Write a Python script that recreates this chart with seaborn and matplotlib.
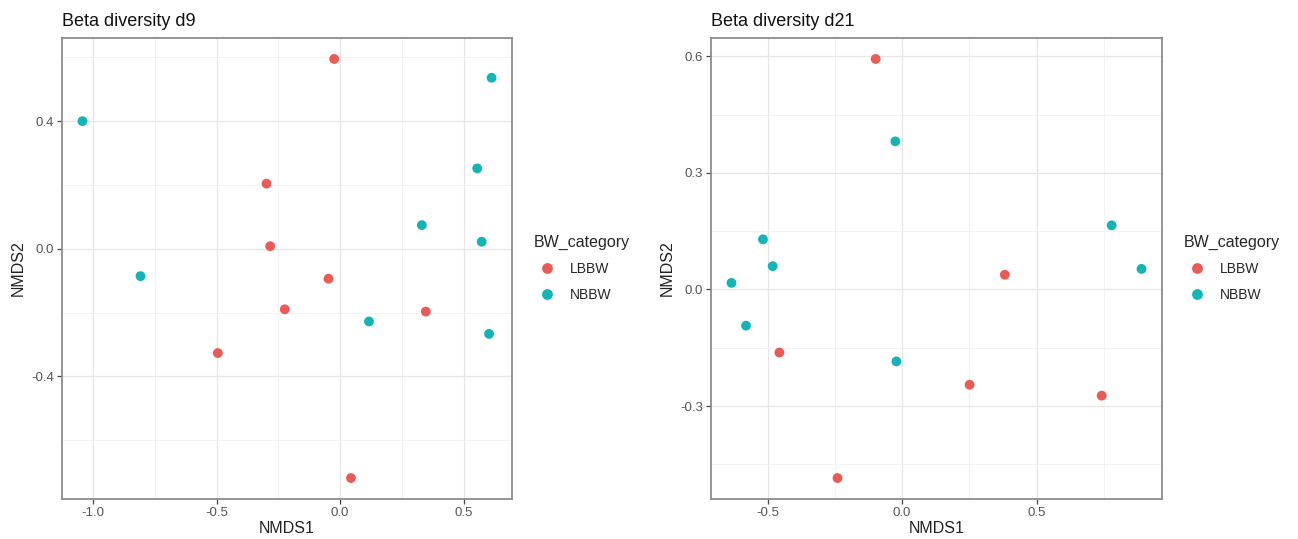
import pandas as pd
import numpy as np
import matplotlib.pyplot as plt
import seaborn as sns
from matplotlib.ticker import MultipleLocator

# NMDS coordinates, day 9
d9_nmds1 = [-0.024, -0.298, -0.283, -0.047, -0.224, 0.347, -0.495, 0.044,
            0.613, -1.043, 0.555, 0.331, 0.573, -0.808, 0.117, 0.603]
d9_nmds2 = [0.595, 0.204, 0.008, -0.094, -0.190, -0.197, -0.327, -0.719,
            0.536, 0.400, 0.252, 0.074, 0.022, -0.086, -0.228, -0.267]
d9_group = ['LBBW'] * 8 + ['NBBW'] * 8

# NMDS coordinates, day 21
d21_nmds1 = [-0.098, 0.382, -0.456, 0.251, 0.742, -0.240,
             -0.025, 0.779, -0.517, -0.481, -0.634, 0.890, -0.580, -0.021]
d21_nmds2 = [0.593, 0.038, -0.162, -0.245, -0.273, -0.485,
             0.381, 0.165, 0.129, 0.060, 0.017, 0.053, -0.093, -0.185]
d21_group = ['LBBW'] * 6 + ['NBBW'] * 8

categories = ['LBBW', 'NBBW']
palette = {'LBBW': '#EC5A55', 'NBBW': '#13B4B6'}

sns.set_theme(style='white')
plt.rcParams['font.family'] = ['Liberation Sans', 'DejaVu Sans']
plt.rcParams['axes.unicode_minus'] = False

fig = plt.figure(figsize=(12.98, 5.39), dpi=100)
ax1 = fig.add_axes([62 / 1298, 1 - 499 / 539, 450 / 1298, 461 / 539])
ax2 = fig.add_axes([711 / 1298, 1 - 499 / 539, 451 / 1298, 461 / 539])

panels = [
    (ax1, d9_nmds1, d9_nmds2, d9_group, 'Beta diversity d9', 0.5, 0.4),
    (ax2, d21_nmds1, d21_nmds2, d21_group, 'Beta diversity d21', 0.5, 0.3),
]

for ax, x, y, grp, title, xstep, ystep in panels:
    df = pd.DataFrame({'NMDS1': x, 'NMDS2': y, 'BW_category': grp})
    sns.scatterplot(data=df, x='NMDS1', y='NMDS2', hue='BW_category',
                    hue_order=categories, palette=palette, s=50,
                    linewidth=0, ax=ax, zorder=3)
    ax.margins(0.05)
    ax.xaxis.set_major_locator(MultipleLocator(xstep))
    ax.yaxis.set_major_locator(MultipleLocator(ystep))
    ax.xaxis.set_minor_locator(MultipleLocator(xstep / 2))
    ax.yaxis.set_minor_locator(MultipleLocator(ystep / 2))
    ax.grid(which='major', color='#E6E6E6', linewidth=0.9, zorder=0)
    ax.grid(which='minor', color='#F1F1F1', linewidth=0.6, zorder=0)
    ax.set_axisbelow(True)
    for sp in ax.spines.values():
        sp.set_color('#8C8C8C')
        sp.set_linewidth(1.3)
    ax.tick_params(which='major', direction='out', length=3.5, width=0.9,
                   color='#444444', labelcolor='#555555', labelsize=9.5,
                   bottom=True, left=True, pad=2)
    ax.tick_params(which='minor', length=0)
    ax.set_xlabel('NMDS1', fontsize=11.5, color='#222222', labelpad=2)
    ax.set_ylabel('NMDS2', fontsize=11.5, color='#222222', labelpad=4)
    ax.set_title(title, loc='left', fontsize=13, color='#111111', pad=9)
    sns.move_legend(ax, 'center left', bbox_to_anchor=(1.02, 0.5),
                    frameon=False, title='BW_category', fontsize=10,
                    title_fontsize=11.5, handletextpad=0.6,
                    labelspacing=0.85, markerscale=1.1)
    ax.get_legend()._legend_box.align = 'left'

fig.savefig('out.png', dpi=100, facecolor='white')
